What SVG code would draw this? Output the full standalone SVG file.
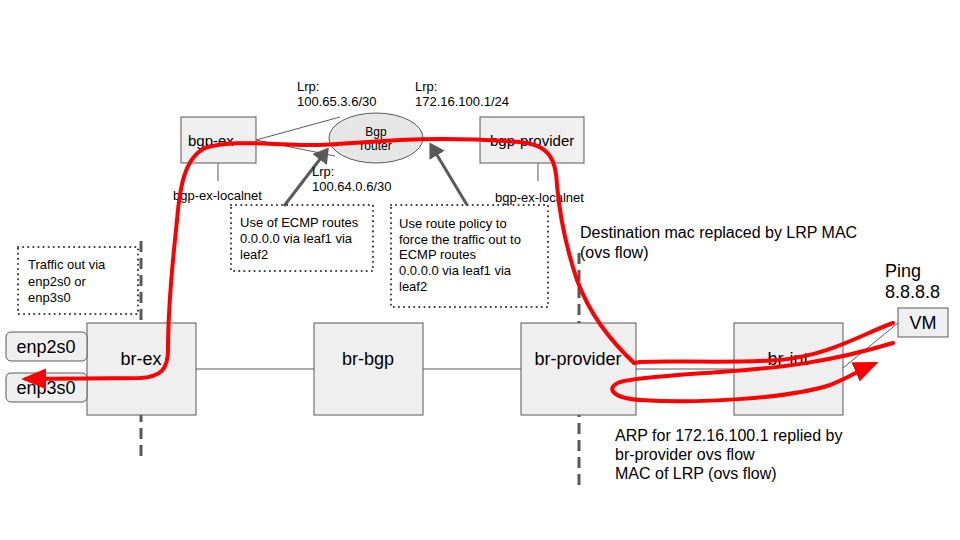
<svg xmlns="http://www.w3.org/2000/svg" width="960" height="540" viewBox="0 0 960 540">
<defs>
<style>
.box{fill:#efefef;stroke:#595959;stroke-width:1}
.t{font-family:"Liberation Sans",Arial,sans-serif;fill:#000}
.s12{font-size:12px}
.s13{font-size:13px}
.s15{font-size:15px}
.s16{font-size:16px}
.s18{font-size:18px}
.ln{stroke:#595959;stroke-width:1;fill:none}
.dot{fill:none;stroke:#333;stroke-width:2;stroke-dasharray:0.1 5;stroke-linecap:round}
.dash{stroke:#595959;stroke-width:3;stroke-dasharray:11 6;fill:none}
.garrow{stroke:#595959;stroke-width:3;fill:none}
.red{stroke:#f00;stroke-width:4;fill:none;stroke-linecap:round;stroke-linejoin:round}
</style>
<marker id="gh" markerWidth="6" markerHeight="6" refX="4" refY="3" orient="auto" markerUnits="strokeWidth"><path d="M0,0 L5,3 L0,6 z" fill="#595959"/></marker>
<marker id="rh" markerWidth="7" markerHeight="6" refX="5" refY="2.6" orient="auto" markerUnits="strokeWidth"><path d="M0,0 L6.2,2.6 L0,5.2 z" fill="#f00"/></marker>
</defs>
<rect width="960" height="540" fill="#fff"/>

<g id="connectors">
<line class="ln" x1="256" y1="140" x2="340" y2="117"/>
<line class="ln" x1="256" y1="140" x2="335" y2="156"/>
<line class="ln" x1="218" y1="163" x2="218" y2="181"/>
<line class="ln" x1="538" y1="163" x2="538" y2="181"/>
<line class="ln" x1="196" y1="369" x2="314" y2="369"/>
<line class="ln" x1="423" y1="369" x2="521" y2="369"/>
<line class="ln" x1="636" y1="369" x2="734" y2="369"/>
<line class="ln" x1="843" y1="368" x2="898" y2="323"/>
<line class="garrow" x1="284" y1="206" x2="327" y2="150" marker-end="url(#gh)"/>
<line class="garrow" x1="467" y1="205" x2="431" y2="145" marker-end="url(#gh)"/>
</g>

<g id="bgp-ex"><rect class="box" x="181" y="117" width="75" height="46"/><text class="t s15" x="188" y="146">bgp-ex</text></g>
<g id="bgp-router"><ellipse cx="376" cy="138" rx="47" ry="25" fill="#e6e6e6" stroke="#595959"/><text class="t s12" x="376" y="136" text-anchor="middle">Bgp</text><text class="t s12" x="376" y="150" text-anchor="middle">router</text></g>
<g id="bgp-provider"><rect class="box" x="480" y="117" width="104" height="46"/><text class="t s15" x="490" y="146">bgp-provider</text></g>

<g id="labels">
<text class="t s13" x="297" y="91">Lrp:</text>
<text class="t s13" x="297" y="106">100.65.3.6/30</text>
<text class="t s13" x="415" y="91">Lrp:</text>
<text class="t s13" x="415" y="106">172.16.100.1/24</text>
<text class="t s13" x="312" y="176">Lrp:</text>
<text class="t s13" x="312" y="191">100.64.0.6/30</text>
<text class="t s13" x="173" y="200">bgp-ex-localnet</text>
<text class="t s13" x="495" y="202">bgp-ex-localnet</text>
</g>

<g id="note-ecmp"><rect class="dot" x="231" y="205" width="142" height="66"/>
<text class="t s13" x="240" y="227">Use of ECMP routes</text>
<text class="t s13" x="240" y="243">0.0.0.0 via leaf1 via</text>
<text class="t s13" x="240" y="259">leaf2</text></g>

<g id="note-policy"><rect class="dot" x="391" y="205" width="157" height="102"/>
<text class="t s13" x="399" y="228">Use route policy to</text>
<text class="t s13" x="399" y="244">force the traffic out to</text>
<text class="t s13" x="399" y="259">ECMP routes</text>
<text class="t s13" x="399" y="275">0.0.0.0 via leaf1 via</text>
<text class="t s13" x="399" y="291">leaf2</text></g>

<g id="note-traffic"><rect class="dot" x="18" y="247" width="120" height="67"/>
<text class="t s13" x="28" y="269">Traffic out via</text>
<text class="t s13" x="28" y="286">enp2s0 or</text>
<text class="t s13" x="28" y="302">enp3s0</text></g>

<g id="dividers">
<line class="dash" x1="141" y1="241" x2="141" y2="456"/>
<line class="dash" x1="579" y1="253" x2="579" y2="490"/>
</g>

<g id="br-ex"><rect class="box" x="87" y="323" width="109" height="92"/><text class="t s18" x="141" y="365" text-anchor="middle">br-ex</text></g>
<g id="enp2s0"><rect class="box" x="6" y="332" width="81" height="29" rx="5"/><text class="t s18" x="46" y="353" text-anchor="middle">enp2s0</text></g>
<g id="enp3s0"><rect class="box" x="6" y="373" width="81" height="29" rx="5"/><text class="t s18" x="46" y="394" text-anchor="middle">enp3s0</text></g>
<g id="br-bgp"><rect class="box" x="314" y="323" width="109" height="92"/><text class="t s18" x="368" y="365" text-anchor="middle">br-bgp</text></g>
<g id="br-provider"><rect class="box" x="521" y="323" width="115" height="92"/><text class="t s18" x="578" y="365" text-anchor="middle">br-provider</text></g>
<g id="br-int"><rect class="box" x="734" y="323" width="109" height="92"/><text class="t s18" x="788" y="365" text-anchor="middle">br-int</text></g>
<g id="vm"><rect class="box" x="898" y="308" width="50" height="29"/><text class="t s18" x="923" y="329" text-anchor="middle">VM</text></g>

<g id="texts">
<text class="t s18" x="885" y="277">Ping</text>
<text class="t s18" x="885" y="298">8.8.8.8</text>
<text class="t s16" x="580" y="238">Destination mac replaced by LRP MAC</text>
<text class="t s16" x="580" y="258">(ovs flow)</text>
<text class="t s16" x="615" y="441">ARP for 172.16.100.1 replied by</text>
<text class="t s16" x="615" y="460">br-provider ovs flow</text>
<text class="t s16" x="615" y="479">MAC of LRP (ovs flow)</text>
</g>

<g id="red-paths">
<path class="red" marker-end="url(#rh)" d="M893,323 C860,335 830,355 780,360 C720,364 680,360 640,362 L634,363 C610,340 590,315 577,280 C567,250 560,220 557,185 C556,160 550,145 520,142 C480,139 440,138 400,140 C360,142 330,146 300,145 C260,144 230,140 205,148 C185,158 180,185 177,220 C173,260 168,300 168,350 C168,370 160,377 140,378 L26,379"/>
<path class="red" marker-end="url(#rh)" d="M893,343 C830,362 780,368 720,372 C680,375 640,377 620,382 C605,388 612,398 640,400 C700,404 790,398 830,385 C848,378 860,370 874,364"/>
</g>
</svg>
